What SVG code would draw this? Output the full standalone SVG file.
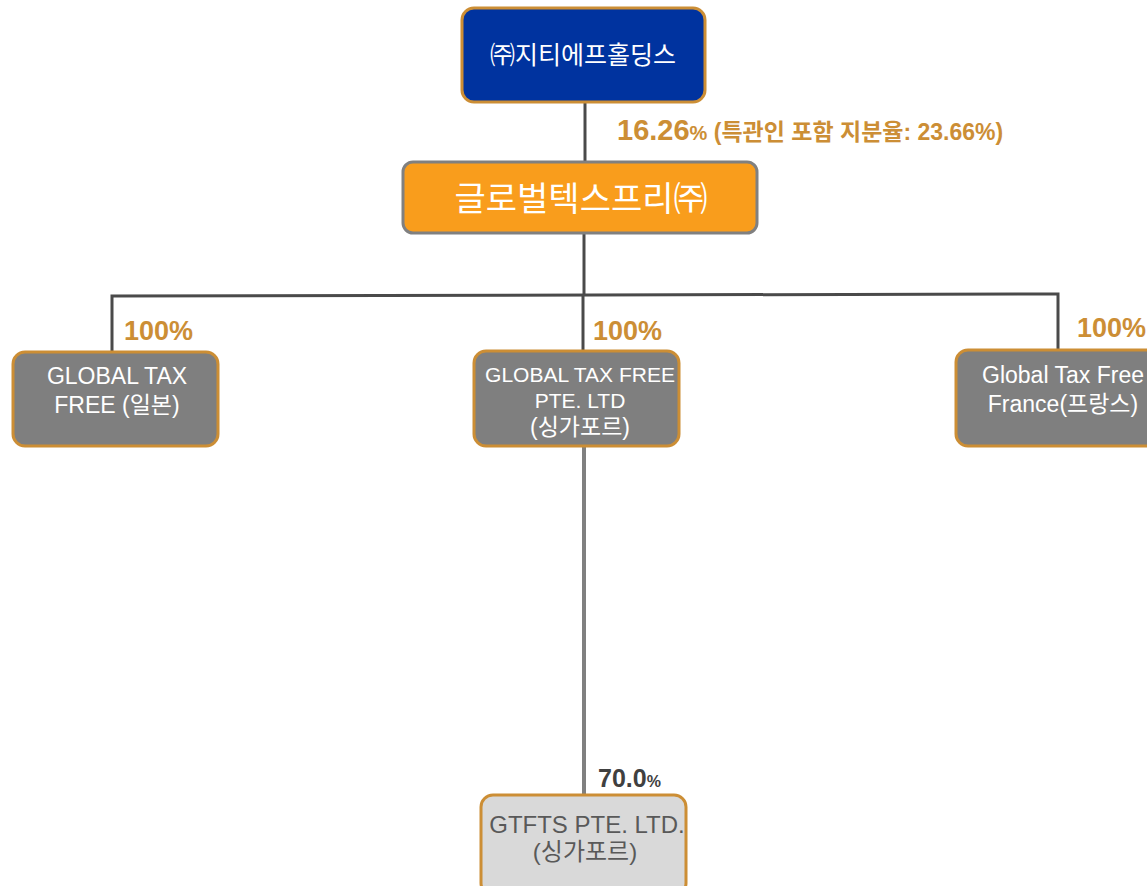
<svg xmlns="http://www.w3.org/2000/svg" width="1147" height="886" viewBox="0 0 1147 886">
<style>
text{font-family:"Liberation Sans","Noto Sans CJK KR",sans-serif;text-anchor:middle}
.conn{stroke:#4a4a4a;stroke-width:3;fill:none}
.pct{fill:#CC8E35;font-weight:bold;font-size:27px;text-anchor:start}
.sub rect{fill:#7f7f7f;stroke:#CC8E35;stroke-width:3}
.sub text{fill:#fff;font-size:23px}
.sub text.sm{font-size:21px}
</style>
<rect width="1147" height="886" fill="#fff"/>
<g id="connectors">
<line class="conn" x1="585" y1="102" x2="585" y2="162"/>
<line class="conn" x1="584" y1="233" x2="584" y2="296"/>
<polyline class="conn" points="112,352 112,296 1058,294 1058,350"/>
<line class="conn" x1="583" y1="296" x2="583" y2="352"/>
<line x1="584" y1="446" x2="584" y2="795" stroke="#808080" stroke-width="4"/>
</g>
<g id="labels">
<text x="617" y="140" style="text-anchor:start;fill:#CC8E35;font-weight:bold"><tspan font-size="29">16.26</tspan><tspan font-size="20">%</tspan><tspan font-size="23"> (특관인 포함 지분율: 23.66%)</tspan></text>
<text class="pct" x="124" y="340">100%</text>
<text class="pct" x="593" y="340">100%</text>
<text class="pct" x="1077" y="337">100%</text>
<text x="598" y="787" style="text-anchor:start;fill:#404040;font-weight:bold"><tspan font-size="25">70.0</tspan><tspan font-size="16">%</tspan></text>
</g>
<g id="node-gtf-holdings">
<rect x="462" y="8" width="243" height="94" rx="12" fill="#00339F" stroke="#CC8E35" stroke-width="3"/>
<text x="583" y="64" fill="#fff" font-size="25">㈜지티에프홀딩스</text>
</g>
<g id="node-global-tax-free">
<rect x="403" y="162" width="354" height="71" rx="10" fill="#F99D1C" stroke="#808080" stroke-width="3"/>
<text x="581" y="211" fill="#fff" font-size="34">글로벌텍스프리㈜</text>
</g>
<g id="node-japan" class="sub">
<rect x="13" y="352" width="205" height="94" rx="12"/>
<text x="117" y="384">GLOBAL TAX</text>
<text x="117" y="413">FREE (일본)</text>
</g>
<g id="node-singapore" class="sub">
<rect x="474" y="351" width="205" height="95" rx="12"/>
<text class="sm" x="580" y="382">GLOBAL TAX FREE</text>
<text class="sm" x="580" y="408">PTE. LTD</text>
<text x="580" y="435">(싱가포르)</text>
</g>
<g id="node-france" class="sub">
<rect x="956" y="350" width="205" height="96" rx="12"/>
<text x="1063" y="383">Global Tax Free</text>
<text x="1063" y="412">France(프랑스)</text>
</g>
<g id="node-gtfts">
<rect x="481" y="795" width="205" height="100" rx="12" fill="#D9D9D9" stroke="#CC8E35" stroke-width="3"/>
<text x="587" y="833" fill="#595959" font-size="24">GTFTS PTE. LTD.</text>
<text x="585" y="860" fill="#595959" font-size="24">(싱가포르)</text>
</g>
</svg>
